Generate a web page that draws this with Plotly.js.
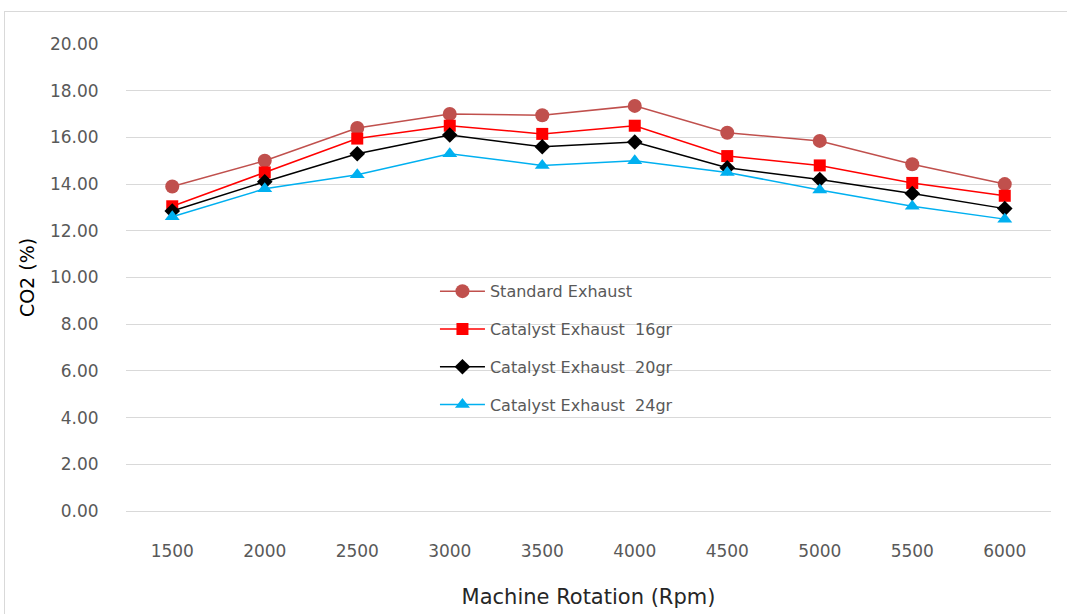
<!DOCTYPE html>
<html>
<head>
<meta charset="utf-8">
<script src="https://cdn.plot.ly/plotly-3.0.1.min.js"></script>
<style>
html,body{margin:0;padding:0;background:#fff;}
#wrap{position:relative;width:1067px;height:614px;overflow:hidden;}
#chart{position:absolute;left:0;top:0;width:1067px;height:614px;}
#frame{position:absolute;left:4px;top:11px;width:1100px;height:700px;border:1px solid #d9d9d9;pointer-events:none;}
</style>
</head>
<body>
<div id="wrap"><div id="chart"></div><div id="frame"></div></div>
<script>
const rpm = ['1500','2000','2500','3000','3500','4000','4500','5000','5500','6000'];
const standardExhaust = [13.9, 15.0, 16.4, 17.0, 16.95, 17.35, 16.2, 15.85, 14.85, 14.0];
const catalyst16 = [13.05, 14.5, 15.95, 16.5, 16.15, 16.5, 15.2, 14.8, 14.05, 13.5];
const catalyst20 = [12.85, 14.1, 15.3, 16.1, 15.6, 15.8, 14.7, 14.2, 13.6, 12.95];
const catalyst24 = [12.6, 13.8, 14.4, 15.3, 14.8, 15.0, 14.5, 13.75, 13.05, 12.5];
const seriesNames = ['Standard Exhaust','Catalyst Exhaust  16gr','Catalyst Exhaust  20gr','Catalyst Exhaust  24gr'];
const yTicks = [0,2,4,6,8,10,12,14,16,18,20];

function tr(y, name, color, sym, size, g){
  return {x: rpm, y: y, name: name, type:'scatter', mode:'lines+markers', legendgroup:g,
    line:{color:color, width:1.5},
    marker:{symbol:sym, size:size, color:color}};
}
const data = [
  tr(standardExhaust, seriesNames[0], '#c0504d', 'circle', 14, 'a'),
  tr(catalyst16, seriesNames[1], '#ff0000', 'square', 12, 'b'),
  tr(catalyst20, seriesNames[2], '#000000', 'diamond', 12, 'c'),
  tr(catalyst24, seriesNames[3], '#00b0f0', 'triangle-up', 13, 'd')
];
const FONT = '"DejaVu Sans", sans-serif';
const layout = {
  width:1067, height:614,
  margin:{l:126, r:16, t:44, b:103},
  paper_bgcolor:'rgba(0,0,0,0)', plot_bgcolor:'#fff',
  font:{family:FONT, color:'#595959', size:16},
  showlegend:true,
  legend:{x:0.334, y:0.507, xanchor:'left', yanchor:'top', bgcolor:'rgba(0,0,0,0)',
    font:{size:16, color:'#595959', family:FONT}, traceorder:'grouped', tracegroupgap:14, itemwidth:45},
  xaxis:{type:'category', range:[-0.5, 9.5], showgrid:false, zeroline:false, showline:false,
    ticks:'outside', ticklen:25, tickcolor:'rgba(0,0,0,0)',
    tickfont:{size:17, color:'#595959', family:FONT},
    title:{text:'Machine Rotation (Rpm)', font:{size:21, color:'#262626', family:FONT}, standoff:28}},
  yaxis:{range:[0,20], tickvals:yTicks, ticktext:yTicks.map(v=>v.toFixed(2)),
    showgrid:true, gridcolor:'#d9d9d9', gridwidth:1, zeroline:true, zerolinecolor:'#d9d9d9', zerolinewidth:1,
    showline:false, ticks:'outside', ticklen:23, tickcolor:'rgba(0,0,0,0)',
    tickfont:{size:17, color:'#595959', family:FONT},
    title:{text:'CO2 (%)', font:{size:19, color:'#000', family:FONT}, standoff:10}}
};
Plotly.newPlot('chart', data, layout, {displayModeBar:false, staticPlot:true});
</script>
</body>
</html>
